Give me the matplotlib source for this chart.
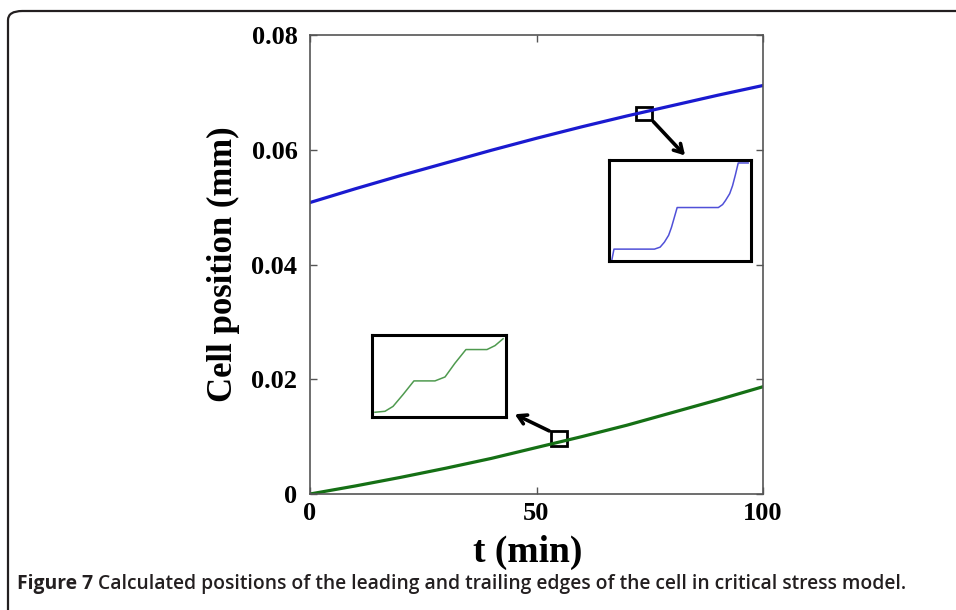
import matplotlib
matplotlib.use("Agg")
import matplotlib.pyplot as plt
from matplotlib.patches import FancyBboxPatch, Rectangle

# ---- data ----
t_min = [0, 10, 20, 30, 40, 50, 60, 70, 80, 90, 100]
leading_edge = [0.0508, 0.0532, 0.0555, 0.0577, 0.0599, 0.0620, 0.0640, 0.0659, 0.0677, 0.0695, 0.0712]
trailing_edge = [0.0, 0.0014, 0.0029, 0.0045, 0.0062, 0.0081, 0.0100, 0.0120, 0.0142, 0.0164, 0.0187]

x_ticks = [0, 50, 100]
x_tick_labels = ["0", "50", "100"]
y_ticks = [0, 0.02, 0.04, 0.06, 0.08]
y_tick_labels = ["0", "0.02", "0.04", "0.06", "0.08"]

# zoomed-in (inset) step profiles, normalised
inset_lead_u = [0.02, 0.035, 0.32, 0.36, 0.39, 0.42, 0.44, 0.46, 0.48, 0.77, 0.80, 0.82, 0.85, 0.87, 0.89, 0.91, 0.98]
inset_lead_v = [0.0, 0.11, 0.11, 0.13, 0.18, 0.25, 0.33, 0.43, 0.53, 0.53, 0.56, 0.60, 0.67, 0.75, 0.86, 0.98, 0.98]
inset_trail_u = [0.022, 0.097, 0.157, 0.231, 0.313, 0.470, 0.545, 0.619, 0.701, 0.858, 0.918, 0.978]
inset_trail_v = [0.049, 0.061, 0.122, 0.268, 0.439, 0.439, 0.488, 0.659, 0.829, 0.829, 0.878, 0.963]

# zoom windows (data coords) and arrow end points
lead_box = (72.0, 0.0652, 3.5, 0.0023)
trail_box = (53.2, 0.0084, 3.5, 0.0026)
lead_arrow = ((75.8, 0.0649), (82.8, 0.0590))
trail_arrow = ((52.8, 0.0110), (45.2, 0.0139))

W, H = 956, 610
fig = plt.figure(figsize=(W / 100, H / 100), dpi=100)

def fx(px):
    return px / W

def fy(py):
    return 1 - py / H

# rounded border
border = FancyBboxPatch((fx(8), fy(640)), fx(1000), fy(11) - fy(640),
                        boxstyle="round,pad=0,rounding_size=0.015",
                        transform=fig.transFigure, fill=False,
                        edgecolor="#231f20", linewidth=1.6, clip_on=False)
fig.patches.append(border)

ax = fig.add_axes([fx(310), fy(494), fx(763) - fx(310), fy(35) - fy(494)])
ax.plot(t_min, leading_edge, color="#1a1ad0", linewidth=2.3)
ax.plot(t_min, trailing_edge, color="#157015", linewidth=2.3)
ax.set_xlim(0, 100)
ax.set_ylim(0, 0.08)
ax.set_xticks(x_ticks)
ax.set_xticklabels(x_tick_labels)
ax.set_yticks(y_ticks)
ax.set_yticklabels(y_tick_labels)
serif = "Liberation Serif"
for lab in ax.get_xticklabels() + ax.get_yticklabels():
    lab.set_fontfamily(serif)
    lab.set_fontweight("bold")
    lab.set_fontsize(19)
ax.tick_params(direction="in", length=5, width=1, color="#555555",
               top=True, right=True)
ax.tick_params(axis="y", pad=9)
ax.tick_params(axis="x", pad=6)
for s in ax.spines.values():
    s.set_color("#555555")
    s.set_linewidth(1.2)
ax.set_xlabel("t (min)", fontfamily=serif, fontweight="bold", fontsize=27)
ax.xaxis.set_label_coords(0.481, -0.089)
ax.set_ylabel("Cell position (mm)", fontfamily=serif, fontweight="bold", fontsize=25, labelpad=8)

# zoom squares
for (x0, y0, w, h) in (lead_box, trail_box):
    ax.add_patch(Rectangle((x0, y0), w, h, fill=False, edgecolor="black", linewidth=2))
for (start, end) in (lead_arrow, trail_arrow):
    ax.annotate("", xy=end, xytext=start,
                arrowprops=dict(arrowstyle="->,head_length=0.6,head_width=0.35",
                                color="black", lw=2.6, shrinkA=0, shrinkB=0))

# insets
def inset(l, t, r, b, u, v, color):
    a = fig.add_axes([fx(l), fy(b), fx(r) - fx(l), fy(t) - fy(b)])
    a.plot(u, v, color=color, linewidth=1.1)
    a.set_xlim(0, 1)
    a.set_ylim(-0.01, 1.01)
    a.set_xticks([])
    a.set_yticks([])
    for s in a.spines.values():
        s.set_linewidth(2.2)
        s.set_color("black")
    return a

inset(609, 160, 751, 261, inset_lead_u, inset_lead_v, "#5050d8")
inset(372, 335, 506, 417, inset_trail_u, inset_trail_v, "#4f9a4f")

# caption
cap_font = ["Open Sans", "DejaVu Sans"]
fig.text(fx(17), fy(584), "Figure 7", fontfamily=cap_font, fontweight="bold",
         fontsize=13.85, color="#231f20", va="center", ha="left")
fig.text(fx(98), fy(584), "Calculated positions of the leading and trailing edges of the cell in critical stress model.",
         fontfamily=cap_font, fontweight="semibold", fontsize=13.85, color="#231f20", va="center", ha="left")

fig.savefig("out.png", dpi=100)
